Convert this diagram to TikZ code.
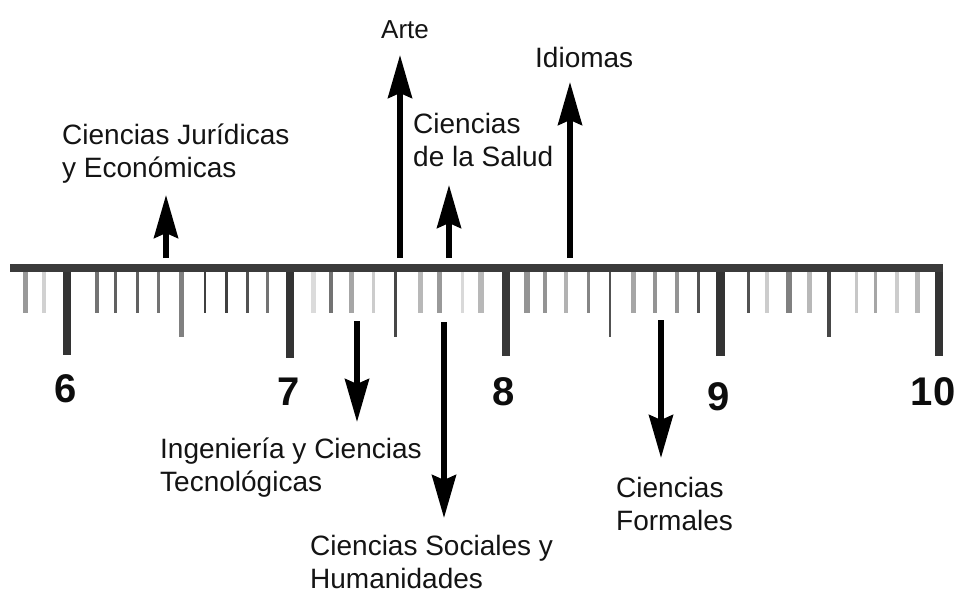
\documentclass[tikz,border=0pt]{standalone}
\usepackage{fontspec}
\setmainfont{Liberation Sans}
\usetikzlibrary{arrows.meta}
\tikzset{
  lbl/.style={anchor=north west, inner sep=0pt, align=left, text=black!92,
    font=\fontsize{28}{33.5}\selectfont},
  lblone/.style={anchor=base west, inner sep=0pt, text=black!92,
    font=\fontsize{28}{33.5}\selectfont},
  num/.style={anchor=base, inner sep=0pt, text=black!95,
    font=\fontsize{40}{40}\selectfont\bfseries},
  arr/.style={line width=5.5pt, black,
    -{Stealth[length=43pt,width=24pt,inset=5pt]}},
}
\newcommand{\fl}{\rule{0pt}{24pt}}
\begin{document}
\begin{tikzpicture}[x=1pt,y=-1pt]
\useasboundingbox (0,0) rectangle (959,592);
\fill[white] (0,0) rectangle (959,592);
% ruler bar
\fill[black!77] (10,264) rectangle (943,272);
% ticks: x / width / bottom / darkness
\foreach \x/\w/\b/\g in {
  25/5/313/40, 44/4/313/18, 67/8/355/80,
  97/4/313/55, 115/3/313/62, 137/3/313/62, 158/3/313/55, 181/5/337/50,
  205/2.5/313/75, 226/3/313/75, 247/3/313/68, 267/3/313/55, 290/8/358/80,
  313/5/313/14, 331/4/313/55, 351/5/313/35, 373/3/313/20, 395/3/337/72,
  420/5/313/28, 439/5/313/40, 462/3/313/15, 481/6/313/28, 506/8/356/78,
  527/6/313/42, 545/4/313/42, 566/4/313/30, 588/3/313/48, 610/2.5/337/68,
  633/5/313/35, 655/4/313/42, 677/4/313/42, 698/3/313/68, 720/9/356/80,
  748/3/313/68, 767/4/313/20, 789/6/313/50, 809/5/313/28, 829/4/337/72,
  856/3/313/22, 875/3/313/35, 897/4/313/20, 917/5/313/28, 939/8/356/80}
  {\fill[black!\g] (\x-\w/2,272) rectangle (\x+\w/2,\b);}
% numbers
\node[num] (n6) at (66,402) {6};
\node[num] (n7) at (289,405) {7};
\node[num] (n8) at (504,405) {8};
\node[num] (n9) at (719,410) {9};
\node[num] (n10) at (933,405) {10};
% labels
\node[lbl] (lje) at (62,120) {\fl Ciencias Jurídicas\\y Económicas};
\node[anchor=base west, inner sep=0pt, text=black!92,
  font=\fontsize{26}{30}\selectfont] (larte) at (381,38) {Arte};
\node[lblone] (lidi) at (535,67) {Idiomas};
\node[lbl] (lsal) at (413,109) {\fl Ciencias\\de la Salud};
\node[lbl] (ling) at (160,434) {\fl Ingeniería y Ciencias\\Tecnológicas};
\node[lbl] (lsoc) at (310,531) {\fl Ciencias Sociales y\\Humanidades};
\node[lbl] (lfor) at (616,473) {\fl Ciencias\\Formales};
% arrow end points
\coordinate (je0) at (166,258);  \coordinate (je1) at (166,195);
\coordinate (ar0) at (400,258);  \coordinate (ar1) at (400,55);
\coordinate (sa0) at (449,258);  \coordinate (sa1) at (449,185);
\coordinate (id0) at (570,258);  \coordinate (id1) at (570,82);
\coordinate (in0) at (357,321);  \coordinate (in1) at (357,422);
\coordinate (so0) at (444,322);  \coordinate (so1) at (444,518);
\coordinate (fo0) at (661,320);  \coordinate (fo1) at (661,458);
\draw[arr] (je0) -- (je1);
\draw[arr] (ar0) -- (ar1);
\draw[arr] (sa0) -- (sa1);
\draw[arr] (id0) -- (id1);
\draw[arr] (in0) -- (in1);
\draw[arr] (so0) -- (so1);
\draw[arr] (fo0) -- (fo1);
\end{tikzpicture}
\end{document}
